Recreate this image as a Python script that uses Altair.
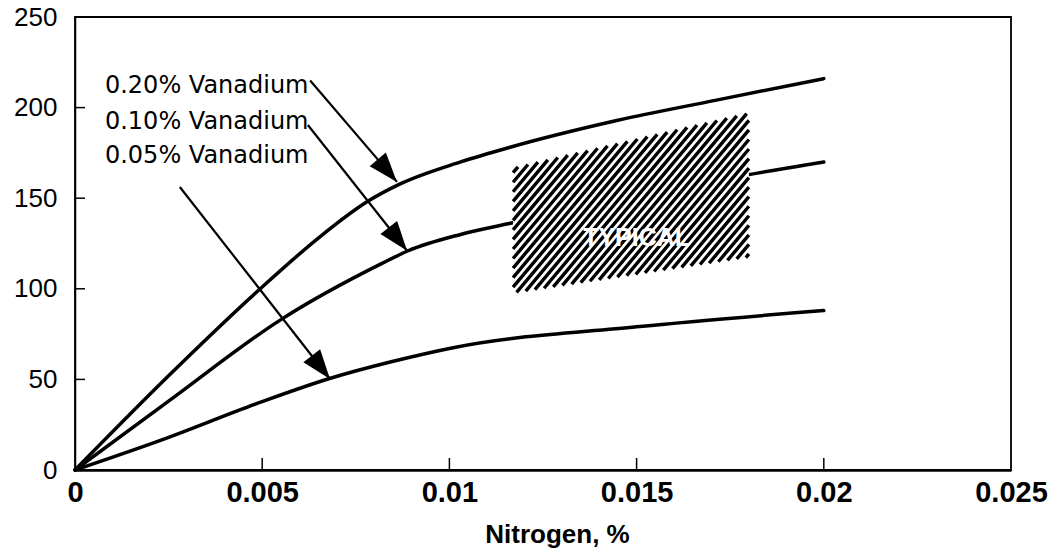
import math
import altair as alt
import numpy as np
import pandas as pd

# ---------------- data ----------------
nitrogen_020 = [0, 0.0025, 0.005, 0.0065, 0.0078, 0.0087, 0.0103, 0.0116, 0.0145, 0.0171, 0.02]
strength_020 = [0, 52, 101, 128, 148, 158, 170, 178, 193, 204, 216]
nitrogen_010 = [0, 0.0025, 0.0055, 0.0082, 0.0089, 0.0103, 0.0116, 0.015, 0.018, 0.02]
strength_010 = [0, 38, 83, 114, 121, 130, 136, 151, 163, 170]
nitrogen_005 = [0, 0.0023, 0.0049, 0.0068, 0.0085, 0.0101, 0.015, 0.02]
strength_005 = [0, 16.5, 37, 50.5, 60, 67.5, 79, 88]

series_names = ["0.20% Vanadium", "0.10% Vanadium", "0.05% Vanadium"]
label_x = [0.0008, 0.0008, 0.0008]
label_y = [208, 188.2, 169.4]
arrow_x0 = [0.00628, 0.00622, 0.0028]
arrow_y0 = [215, 190.4, 156.2]
arrow_x1 = [0.0086, 0.00887, 0.00681]
arrow_y1 = [159, 121, 50.2]

typical_x = [0.0117, 0.018]
typical_top = [166.7, 197]
typical_bottom = [97.7, 117.5]
typical_text = "TYPICAL"
typical_pos = [0.015, 128]

x_ticks = [0, 0.005, 0.01, 0.015, 0.02, 0.025]
y_ticks = [0, 50, 100, 150, 200, 250]
x_title = "Nitrogen, %"

# ---------------- layout ----------------
W, H = 936, 453
XMAX, YMAX = 0.025, 250
PAD = {"left": 75, "top": 17, "right": 1058 - 75 - W, "bottom": 553 - 17 - H}


def to_px(x):
    return x / XMAX * W


def to_py(y):
    return (1 - y / YMAX) * H


def from_px(p):
    return p / W * XMAX


def from_py(p):
    return (1 - p / H) * YMAX


xs = alt.Scale(domain=[0, XMAX], nice=False, zero=True)
ys = alt.Scale(domain=[0, YMAX], nice=False, zero=True)

x_axis = alt.Axis(
    values=x_ticks, format="~g", title=x_title, ticks=False, grid=False,
    labelFont="Liberation Sans", labelFontWeight="bold", labelFontSize=29,
    labelColor="black", labelPadding=8, labelFlush=False,
    titleFont="Liberation Sans", titleFontWeight="bold", titleFontSize=26,
    titleColor="black", titleX=482, titleY=72, titleBaseline="alphabetic",
    domainColor="black", domainWidth=2.5)
y_axis = alt.Axis(
    values=y_ticks, title=None, ticks=False, grid=False,
    labelFont="Liberation Sans", labelFontSize=26, labelColor="black",
    labelPadding=18, labelFlush=False,
    domainColor="black", domainWidth=1.5)


def X(field):
    return alt.X(field, scale=xs, axis=x_axis)


def Y(field):
    return alt.Y(field, scale=ys, axis=y_axis)


# ---------------- curves ----------------
rows = []
for name, xv, yv in zip(series_names, [nitrogen_020, nitrogen_010, nitrogen_005],
                        [strength_020, strength_010, strength_005]):
    for a, b in zip(xv, yv):
        rows.append({"series": name, "x": a, "y": b})
curves_df = pd.DataFrame(rows)

curves = alt.Chart(curves_df).mark_line(
    color="black", strokeWidth=3.5, interpolate="monotone", strokeCap="round"
).encode(x=X("x:Q"), y=Y("y:Q"), detail="series:N")

# ---------------- TYPICAL box ----------------
box_df = pd.DataFrame({"x": typical_x, "top": typical_top, "bottom": typical_bottom})
box = alt.Chart(box_df).mark_area(color="white", opacity=1).encode(
    x=X("x:Q"), y=Y("top:Q"), y2="bottom:Q")

# hatch stripes clipped to the box
pxL, pxR = to_px(typical_x[0]), to_px(typical_x[1])
ptL, ptR = to_py(typical_top[0]), to_py(typical_top[1])
pbL, pbR = to_py(typical_bottom[0]), to_py(typical_bottom[1])
a_t = (ptR - ptL) / (pxR - pxL)
b_t = ptL - a_t * pxL
a_b = (pbR - pbL) / (pxR - pxL)
b_b = pbL - a_b * pxL
k = math.tan(math.radians(50))
period = 8.0
corners = [(pxL, ptL), (pxR, ptR), (pxL, pbL), (pxR, pbR)]
cs = [py + k * px for px, py in corners]
hatch = []
c = min(cs) + period * k / 2
while c < max(cs):
    lo = max(pxL, (c - b_b) / (k + a_b))
    hi = min(pxR, (c - b_t) / (k + a_t))
    if hi > lo:
        hatch.append({"x": from_px(lo), "y": from_py(-k * lo + c),
                      "x2": from_px(hi), "y2": from_py(-k * hi + c)})
    c += period * k
hatch_df = pd.DataFrame(hatch)
stripes = alt.Chart(hatch_df).mark_rule(color="black", strokeWidth=3.4).encode(
    x=X("x:Q"), y=Y("y:Q"), x2="x2:Q", y2="y2:Q")

typical = alt.Chart(pd.DataFrame({"x": [typical_pos[0]], "y": [typical_pos[1]], "t": [typical_text]})).mark_text(
    color="white", font="Liberation Sans", fontWeight="bold", fontSize=25,
    align="center", baseline="middle"
).encode(x=X("x:Q"), y=Y("y:Q"), text="t:N")

# ---------------- inward ticks ----------------
xt_df = pd.DataFrame({"x": x_ticks[1:-1]})
xticks = alt.Chart(xt_df).mark_rule(color="black", strokeWidth=1.5).encode(
    x=X("x:Q"), y=alt.value(H), y2=alt.value(H - 12))
yt_df = pd.DataFrame({"y": y_ticks[1:-1]})
yticks = alt.Chart(yt_df).mark_rule(color="black", strokeWidth=1.5).encode(
    y=Y("y:Q"), x=alt.value(0), x2=alt.value(10))

# ---------------- arrows & labels ----------------
angles = []
for x0, y0, x1, y1 in zip(arrow_x0, arrow_y0, arrow_x1, arrow_y1):
    dx = to_px(x1) - to_px(x0)
    dy = to_py(y1) - to_py(y0)
    angles.append((math.degrees(math.atan2(dy, dx)) - 90) % 360)
arrow_df = pd.DataFrame({"x": arrow_x0, "y": arrow_y0, "x1": arrow_x1, "y1": arrow_y1})
arrow_lines = alt.Chart(arrow_df).mark_rule(color="black", strokeWidth=2.2).encode(
    x=X("x:Q"), y=Y("y:Q"), x2="x1:Q", y2="y1:Q")
head_df = pd.DataFrame({"x": arrow_x1, "y": arrow_y1, "ang": angles})
arrow_heads = alt.Chart(head_df).mark_point(
    shape="M0,0L-0.36,-1L0.36,-1Z", filled=True, color="black", opacity=1,
    size=3500, strokeWidth=0
).encode(x=X("x:Q"), y=Y("y:Q"), angle=alt.Angle("ang:Q", scale=None))

lab_df = pd.DataFrame({"x": label_x, "y": label_y, "t": series_names})
labels = alt.Chart(lab_df).mark_text(
    font="DejaVu Sans", fontSize=24, color="black", align="left", baseline="alphabetic"
).encode(x=X("x:Q"), y=Y("y:Q"), text="t:N")

chart = alt.layer(
    curves, box, stripes, typical, xticks, yticks, arrow_lines, arrow_heads, labels
).properties(
    width=W, height=H, padding=PAD,
    autosize=alt.AutoSizeParams(type="none"),
    background="white",
).configure_view(stroke="black", strokeWidth=1.8)

chart.save("out.html", embed_options={"renderer": "svg", "actions": False})
